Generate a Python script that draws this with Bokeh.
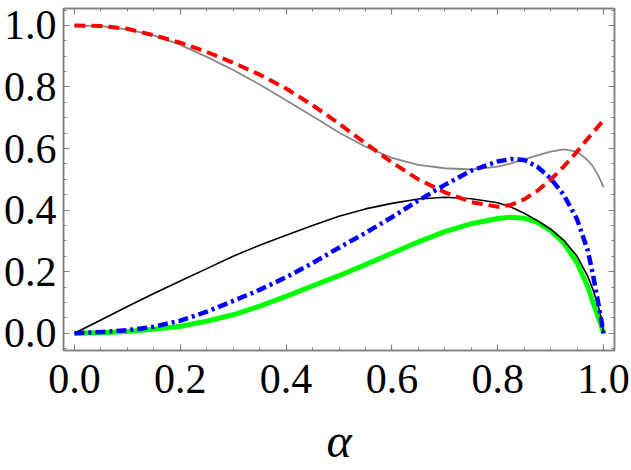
from bokeh.plotting import figure
from bokeh.models import Range1d, FixedTicker, LinearAxis, NumeralTickFormatter
from bokeh.embed import file_html
from bokeh.resources import INLINE

# ---- data ----
alpha = [0.0, 0.05, 0.1, 0.15, 0.2, 0.25, 0.3, 0.35, 0.4, 0.45, 0.5, 0.55, 0.6,
         0.65, 0.7, 0.75, 0.8, 0.825, 0.85, 0.875, 0.9, 0.925, 0.95, 0.97,
         0.98, 0.99, 0.995, 1.0]
red = [1.0, 0.998, 0.989, 0.968, 0.944, 0.914, 0.879, 0.840, 0.795, 0.741,
       0.681, 0.617, 0.555, 0.500, 0.458, 0.426, 0.411, 0.417, 0.435, 0.463,
       0.499, 0.542, 0.590, 0.632, 0.652, 0.672, 0.682, 0.692]
gray = [1.0, 0.998, 0.987, 0.968, 0.937, 0.898, 0.855, 0.808, 0.757, 0.705,
        0.652, 0.606, 0.570, 0.547, 0.536, 0.532, 0.541, 0.552, 0.565, 0.578,
        0.590, 0.597, 0.590, 0.562, 0.542, 0.512, 0.494, 0.474]
blue = [0.0, 0.004, 0.010, 0.021, 0.041, 0.070, 0.105, 0.141, 0.182, 0.228,
        0.278, 0.326, 0.377, 0.431, 0.482, 0.528, 0.558, 0.566, 0.563, 0.541,
        0.503, 0.449, 0.370, 0.270, 0.190, 0.098, 0.050, 0.0]
black = [0.0, 0.043, 0.087, 0.129, 0.170, 0.210, 0.250, 0.286, 0.318, 0.350,
         0.380, 0.404, 0.422, 0.436, 0.442, 0.437, 0.424, 0.410, 0.390, 0.366,
         0.338, 0.302, 0.250, 0.186, 0.142, 0.088, 0.055, 0.0]
green = [0.0, 0.002, 0.006, 0.013, 0.023, 0.039, 0.060, 0.088, 0.120, 0.154,
         0.187, 0.223, 0.260, 0.297, 0.330, 0.356, 0.373, 0.377, 0.374, 0.360,
         0.333, 0.293, 0.228, 0.152, 0.100, 0.052, 0.027, 0.0]

x_major = [0.0, 0.2, 0.4, 0.6, 0.8, 1.0]
x_minor = [0.05, 0.1, 0.15, 0.25, 0.3, 0.35, 0.45, 0.5, 0.55, 0.65, 0.7, 0.75,
           0.85, 0.9, 0.95]
y_major = [0.0, 0.2, 0.4, 0.6, 0.8, 1.0]
y_minor = [-0.05, 0.05, 0.1, 0.15, 0.25, 0.3, 0.35, 0.45, 0.5, 0.55, 0.65, 0.7,
           0.75, 0.85, 0.9, 0.95, 1.05]

FONT = "Liberation Serif"
FRAME = "#808080"

p = figure(width=630, height=469, output_backend="svg", toolbar_location=None,
           x_range=Range1d(-0.0207, 1.0207), y_range=Range1d(-0.056, 1.055),
           x_axis_location=None, y_axis_location=None,
           min_border_left=60, min_border_right=16, min_border_top=8,
           min_border_bottom=118)
p.grid.visible = False
p.outline_line_color = FRAME
p.outline_line_width = 1.5
p.background_fill_color = "white"
p.border_fill_color = "white"


def style_axis(ax, ticker, labels):
    ax.ticker = ticker
    ax.axis_line_color = FRAME
    ax.axis_line_width = 1.5
    ax.major_tick_line_color = FRAME
    ax.minor_tick_line_color = FRAME
    ax.major_tick_line_width = 1.2
    ax.minor_tick_line_width = 1.0
    ax.major_tick_in = 6
    ax.major_tick_out = 0
    ax.minor_tick_in = 3
    ax.minor_tick_out = 0
    if labels:
        ax.formatter = NumeralTickFormatter(format="0.0")
        ax.major_label_text_font = FONT
        ax.major_label_text_font_size = "42px"
        ax.major_label_text_color = "black"
    else:
        ax.major_label_text_font_size = "0px"
        ax.major_label_text_color = None
        ax.major_label_standoff = 0


xt = FixedTicker(ticks=x_major, minor_ticks=x_minor)
yt = FixedTicker(ticks=y_major, minor_ticks=y_minor)

bottom = LinearAxis()
style_axis(bottom, xt, True)
bottom.major_label_standoff = 14
bottom.axis_label = "α"
bottom.axis_label_text_font = FONT
bottom.axis_label_text_font_style = "italic"
bottom.axis_label_text_font_size = "48px"
bottom.axis_label_text_color = "black"
bottom.axis_label_standoff = 18
p.add_layout(bottom, "below")

left = LinearAxis()
style_axis(left, yt, True)
left.major_label_standoff = 7
p.add_layout(left, "left")

top = LinearAxis()
style_axis(top, FixedTicker(ticks=x_major, minor_ticks=x_minor), False)
p.add_layout(top, "above")

right = LinearAxis()
style_axis(right, FixedTicker(ticks=y_major, minor_ticks=y_minor), False)
p.add_layout(right, "right")

p.line(alpha, green, line_color="#00ff00", line_width=5, line_join="round")
p.line(alpha, black, line_color="black", line_width=1.6, line_join="round")
p.line(alpha, gray, line_color="#888888", line_width=1.8, line_join="round")
p.line(alpha, red, line_color="#ff0000", line_width=4, line_dash="11 6",
       line_join="round")
p.line(alpha, blue, line_color="#0000ff", line_width=4.5,
       line_dash="10 4 3 4", line_join="round")

open("out.html", "w").write(file_html(p, INLINE))
